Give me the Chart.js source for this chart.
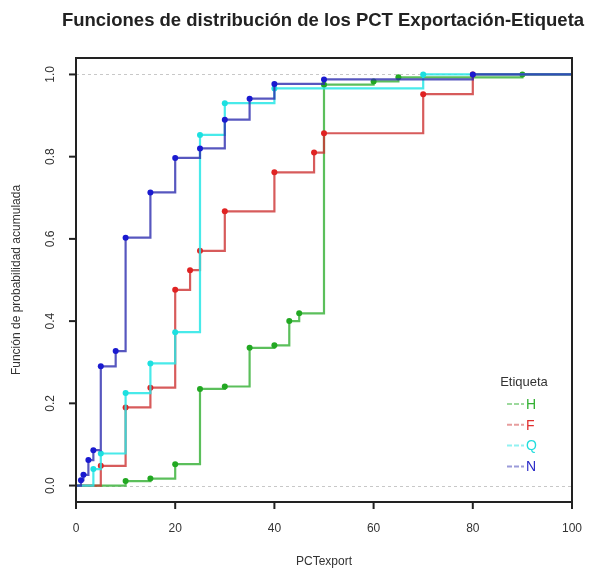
<!DOCTYPE html>
<html>
<head>
<meta charset="utf-8">
<script src="https://cdn.jsdelivr.net/npm/chart.js@4"></script>
<style>
  html, body { margin: 0; padding: 0; background: #fff; }
  #wrap { width: 592px; height: 570px; }
</style>
</head>
<body>
<div id="wrap"><canvas id="chart" width="592" height="570"></canvas></div>
<script>
// ECDF of PCTexport by Etiqueta
const hX = [10, 15, 20, 25, 30, 35, 40, 43, 45, 50, 60, 65, 90];
const hY = [0.011, 0.017, 0.052, 0.235, 0.241, 0.335, 0.341, 0.400, 0.419, 0.975, 0.983, 0.993, 1.0];

const fX = [5, 10, 15, 20, 23, 25, 30, 40, 48, 50, 70, 80];
const fY = [0.048, 0.190, 0.238, 0.476, 0.524, 0.571, 0.667, 0.762, 0.810, 0.857, 0.952, 1.0];

const qX = [3.5, 5, 10, 15, 20, 25, 30, 40, 70];
const qY = [0.040, 0.078, 0.225, 0.297, 0.373, 0.853, 0.930, 0.966, 1.0];

const nX = [1, 1.5, 2.5, 3.5, 5, 8, 10, 15, 20, 25, 30, 35, 40, 50, 80];
const nY = [0.013, 0.026, 0.062, 0.086, 0.290, 0.327, 0.603, 0.713, 0.797, 0.820, 0.890, 0.941, 0.977, 0.988, 1.0];

const xTicks = [0, 20, 40, 60, 80, 100];
const yTicks = [0, 0.2, 0.4, 0.6, 0.8, 1.0];
const labels = ['H', 'F', 'Q', 'N'];

const FONT = '"Liberation Sans", Arial, sans-serif';

const series = {
  H: { xs: hX, ys: hY, line: 'rgba(50,175,50,0.8)',  dot: '#22a822', text: '#33b033' },
  F: { xs: fX, ys: fY, line: 'rgba(205,50,50,0.8)',  dot: '#e02222', text: '#e03030' },
  Q: { xs: qX, ys: qY, line: 'rgba(40,230,230,0.85)', dot: '#1ce0e0', text: '#22dddd' },
  N: { xs: nX, ys: nY, line: 'rgba(45,45,175,0.8)',  dot: '#1a1ad0', text: '#2a2ac8' }
};

// step function: start at 0, jump at each x, run to 100
function stepData(xs, ys) {
  const pts = [{ x: 0, y: 0 }];
  xs.forEach((x, i) => pts.push({ x, y: ys[i] }));
  pts.push({ x: 100, y: 1 });
  return pts;
}

const drawOrder = ['N', 'Q', 'F', 'H']; // first one ends on top
const datasets = drawOrder.map(k => ({
  label: k,
  data: stepData(series[k].xs, series[k].ys),
  stepped: 'before',
  borderColor: series[k].line,
  borderWidth: 2.2,
  pointBackgroundColor: series[k].dot,
  pointBorderWidth: 0,
  pointRadius: (c) => (c.raw && (c.raw.x === 0 || c.raw.x === 100)) ? 0 : 3,
  fill: false
}));

// R-style frame, axes, title and legend
const rPlot = {
  id: 'rPlot',
  beforeDatasetsDraw(chart) {
    const { ctx, chartArea: a, scales } = chart;
    ctx.save();
    ctx.strokeStyle = '#c8c8c8';
    ctx.lineWidth = 1;
    ctx.setLineDash([3, 3]);
    [0, 1].forEach(v => {
      const y = Math.round(scales.y.getPixelForValue(v)) + 0.5;
      ctx.beginPath(); ctx.moveTo(a.left, y); ctx.lineTo(a.right, y); ctx.stroke();
    });
    ctx.restore();
  },
  afterDraw(chart) {
    const { ctx, chartArea: a, scales } = chart;
    ctx.save();
    // frame
    ctx.strokeStyle = '#222';
    ctx.lineWidth = 2;
    ctx.strokeRect(a.left, a.top, a.right - a.left, a.bottom - a.top);

    // x axis ticks + labels
    ctx.fillStyle = '#333';
    ctx.font = '12px ' + FONT;
    ctx.textAlign = 'center';
    ctx.textBaseline = 'middle';
    xTicks.forEach(v => {
      const x = scales.x.getPixelForValue(v);
      ctx.beginPath(); ctx.moveTo(x, a.bottom); ctx.lineTo(x, a.bottom + 7); ctx.stroke();
      ctx.fillText(String(v), x, 529);
    });
    // y axis ticks + rotated labels
    yTicks.forEach(v => {
      const y = scales.y.getPixelForValue(v);
      ctx.beginPath(); ctx.moveTo(a.left, y); ctx.lineTo(a.left - 7, y); ctx.stroke();
      ctx.save();
      ctx.translate(51, y);
      ctx.rotate(-Math.PI / 2);
      ctx.fillText(v.toFixed(1), 0, 0);
      ctx.restore();
    });

    // axis titles
    ctx.fillText('PCTexport', (a.left + a.right) / 2, 562);
    ctx.save();
    ctx.translate(17, (a.top + a.bottom) / 2);
    ctx.rotate(-Math.PI / 2);
    ctx.fillText('Función de probabilidad acumulada', 0, 0);
    ctx.restore();

    // title
    ctx.fillStyle = '#222';
    ctx.font = 'bold 18.5px ' + FONT;
    ctx.fillText('Funciones de distribución de los PCT Exportación-Etiqueta', 323, 21);

    // legend
    ctx.font = '13px ' + FONT;
    ctx.fillStyle = '#333';
    ctx.fillText('Etiqueta', 524, 382);
    labels.forEach((k, i) => {
      const y = 404 + i * 20.8;
      ctx.strokeStyle = series[k].line;
      ctx.globalAlpha = 0.6;
      ctx.lineWidth = 2;
      ctx.setLineDash([5, 2]);
      ctx.beginPath(); ctx.moveTo(507, y); ctx.lineTo(524, y); ctx.stroke();
      ctx.setLineDash([]);
      ctx.globalAlpha = 1;
      ctx.fillStyle = series[k].text;
      ctx.font = '14px ' + FONT;
      ctx.textAlign = 'left';
      ctx.fillText(k, 526, y + 1);
    });
    ctx.restore();
  }
};

new Chart(document.getElementById('chart'), {
  type: 'line',
  data: { datasets },
  options: {
    responsive: false,
    animation: false,
    parsing: true,
    layout: { padding: { left: 76, right: 20, top: 58, bottom: 68 } },
    plugins: { legend: { display: false }, tooltip: { enabled: false }, title: { display: false } },
    scales: {
      x: { type: 'linear', min: 0, max: 100, display: false },
      y: { type: 'linear', min: -0.04, max: 1.04, display: false }
    }
  },
  plugins: [rPlot]
});
</script>
</body>
</html>
